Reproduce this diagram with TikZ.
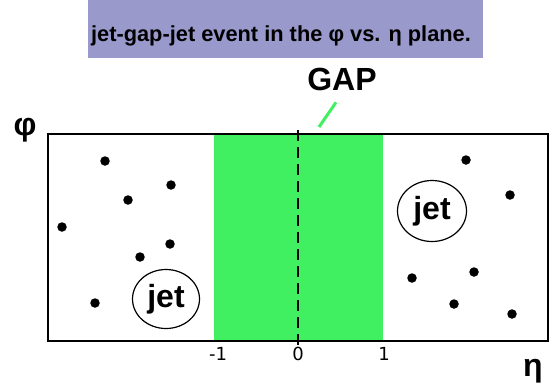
\documentclass[tikz,border=0pt]{standalone}
\usepackage{fontspec}
\setmainfont{Liberation Sans}
\newfontfamily\tickfont{DejaVu Sans}
\usetikzlibrary{positioning, shapes.geometric}

\definecolor{boxPurple}{RGB}{153,153,204}
\definecolor{gapGreen}{RGB}{64,240,96}

\begin{document}
\begin{tikzpicture}[
			x=1pt, y=-1pt,
			% Title banner
			titleBox/.style={fill=boxPurple, inner sep=0pt, minimum width=395pt, minimum height=58pt},
			titleText/.style={font=\bfseries\fontsize{21.8}{26}\selectfont, inner sep=0pt},
			% Labels
			gapLabel/.style={font=\bfseries\fontsize{32}{36}\selectfont, inner sep=0pt, text depth=0pt},
			axisLabel/.style={font=\bfseries\fontsize{32}{36}\selectfont, inner sep=0pt},
			tickLabel/.style={font=\tickfont\fontsize{18}{20}\selectfont, inner sep=0pt},
			% Particles and jets
			particle/.style={circle, fill=black, inner sep=0pt, minimum size=9.5pt},
			jetBlob/.style={ellipse, draw, line width=1.2pt, inner sep=0pt, minimum width=67pt, minimum height=59pt,
				font=\bfseries\fontsize{32}{34}\selectfont},
			% Plane
			gapBand/.style={fill=gapGreen},
			planeFrame/.style={draw, line width=2pt},
			etaZero/.style={dash pattern=on 11pt off 6pt, line width=1.8pt},
			pointer/.style={draw=gapGreen, line width=3pt}
			]
			
			\useasboundingbox (0,0) rectangle (557,389);
			
			% ==============================================================================
			% TITLE
			% ==============================================================================
			\node[titleBox] (title box) at (285.5, 29) {};
			\node[titleText] (title) at (281, 36) {jet-gap-jet event in the φ vs. η plane.};
			
			% ==============================================================================
			% PLANE WITH RAPIDITY GAP
			% ==============================================================================
			\fill[gapBand] (214, 134) rectangle (383, 341);
			\draw[planeFrame] (48, 134) rectangle (548, 341);
			
			\coordinate (eta top) at (298, 130);
			\coordinate (eta bottom) at (298, 347);
			\draw[etaZero] (eta top) -- (eta bottom);
			
			% Gap label
			\node[gapLabel] (gap label) at (342, 79) {GAP};
			\coordinate (gap tip) at (319, 127);
			\draw[pointer] ([xshift=-6pt, yshift=-12pt]gap label.south) -- (gap tip);
			
			% Axes
			\node[axisLabel] (phi) at (25, 130) {φ};
			\node[axisLabel] (eta) at (533, 371) {η};
			\node[tickLabel] (tick m1) at (218, 354) {-1};
			\node[tickLabel] (tick 0) at (298, 354) {0};
			\node[tickLabel] (tick p1) at (384, 354) {1};
			
			% ==============================================================================
			% PARTICLES AND JETS
			% ==============================================================================
			\foreach \px/\py [count=\i] in {105/161, 171/185, 128/200, 62/227, 170/244, 140/257, 95/303}
				\node[particle] (left dot \i) at (\px, \py) {};
			\foreach \px/\py [count=\i] in {466/160, 510/195, 412/278, 474/272, 454/304, 512/314}
				\node[particle] (right dot \i) at (\px, \py) {};
			
			\node[jetBlob] (left jet) at (166, 299) {jet};
			\node[jetBlob, minimum width=69pt, minimum height=61pt] (right jet) at (432, 211) {jet};
			
		\end{tikzpicture}
\end{document}
